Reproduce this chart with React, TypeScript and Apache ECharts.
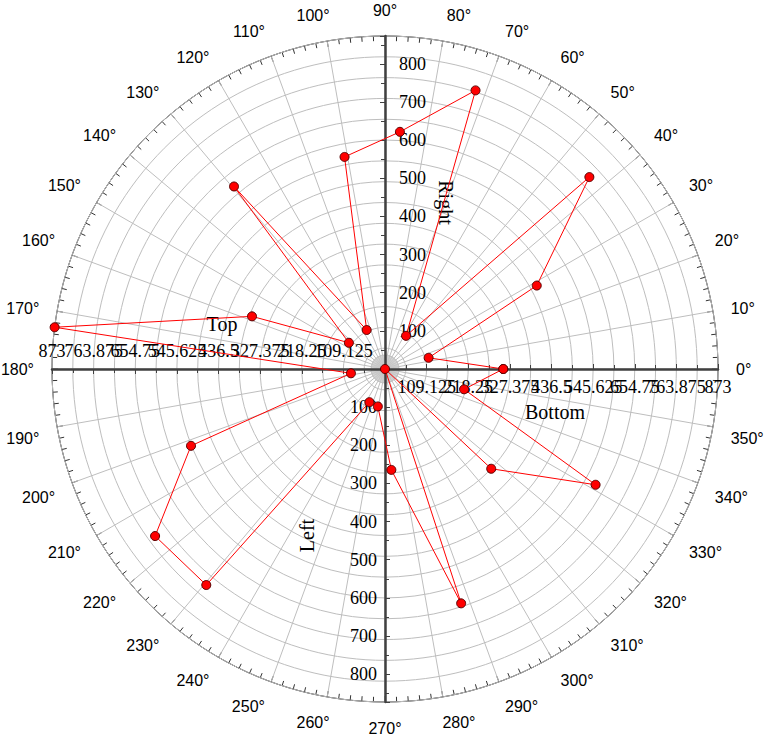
import React, { useEffect, useRef } from 'react';
import * as echarts from 'echarts';

// ---- data ----
const angles = [0, 14.4, 28.8, 43.2, 57.6, 72, 86.4, 100.8, 115.2, 129.6, 144, 158.4, 172.8, 187.2, 201.6, 216, 230.4, 244.8, 259.2, 273.6, 288, 302.4, 316.8, 331.2, 345.6, 360];
const radii = [310, 118, 454, 735, 103, 768, 623, 566, 113, 621, 117, 375, 873, 90, 547, 745, 735, 96, 100, 265, 646, 0, 382, 630, 214, 310];

const radialMax = 873;
const topBottomInterval = 109.125;
const rightLeftInterval = 100;
const rightLeftLabels = [100, 200, 300, 400, 500, 600, 700, 800];
const axisNames = { bottom: 'Bottom', right: 'Right', top: 'Top', left: 'Left' };
// angle labels that sit next to an axis, grouped by the way they are pushed off it
const angleLabelsPushRight = [80, 280];
const angleLabelsPushLeft = [100, 260];
const angleLabelsPushUp = [10, 170];
const angleLabelsPushDown = [190, 350];
const nearAxisAngles = [...angleLabelsPushRight, ...angleLabelsPushLeft, ...angleLabelsPushUp, ...angleLabelsPushDown];

const CENTER = [385, 369];
const RADIUS = 333;
const SERIF = 'Liberation Serif';
const SANS = 'Liberation Sans';
const GRID = '#BEBEBE';
const AXIS = '#404040';
const ANGLE_LABEL = { fontFamily: SANS, fontSize: 16, color: '#000', margin: 18 };

function hiddenAngle(polarIndex: number, startAngle: number) {
  return {
    polarIndex, type: 'value', min: 0, max: 360, interval: 90, startAngle, clockwise: false, show: false,
  };
}

function hiddenRadius(polarIndex: number) {
  return { polarIndex, type: 'value', min: 0, max: 1, show: false };
}

function angleLabelRing(polarIndex: number, values: number[], padding: number[], prefix = '', lineHeight?: number) {
  return {
    polarIndex, type: 'value', min: 0, max: 360, interval: 10, startAngle: 0, clockwise: false,
    axisLine: { show: false }, axisTick: { show: false }, splitLine: { show: false },
    axisLabel: {
      ...ANGLE_LABEL, padding, ...(lineHeight ? { lineHeight } : {}),
      formatter: (v: number) => (values.indexOf(v) >= 0 ? prefix + v + '°' : ''),
    },
  };
}

function radial(polarIndex: number, opts: any) {
  const { nameTextStyle, axisLabel, ...rest } = opts;
  return {
    polarIndex,
    type: 'value',
    min: 0,
    max: radialMax,
    nameLocation: 'middle',
    axisLine: { show: true, lineStyle: { color: AXIS, width: 2.5 } },
    axisTick: { show: true, length: 5, lineStyle: { color: AXIS, width: 1 } },
    minorTick: { show: true, splitNumber: 2, length: 4, lineStyle: { color: AXIS, width: 1 } },
    splitLine: { show: false },
    z: 5,
    ...rest,
    nameTextStyle: { fontFamily: SERIF, fontSize: 20, color: '#000', ...(nameTextStyle || {}) },
    axisLabel: {
      fontFamily: SERIF, fontSize: 18, color: '#000', showMaxLabel: false, hideOverlap: false,
      ...(axisLabel || {}),
    },
  };
}

export default function App() {
  const ref = useRef<HTMLDivElement>(null);
  useEffect(() => {
    if (!ref.current) return;
    const chart = echarts.init(ref.current, undefined, { renderer: 'svg' });
    const tbFmt = (v: number) => (v === 0 || v === radialMax ? '' : String(v));
    const maxFmt = (v: number) => (v === radialMax ? String(v) : '');
    const rlFmt = (v: number) => (rightLeftLabels.indexOf(v) >= 0 ? String(v) : '');
    const polar = (r: number) => ({ center: CENTER, radius: r });
    const option: any = {
      animation: false,
      polar: [
        polar(RADIUS), polar(RADIUS), polar(RADIUS), polar(RADIUS), polar(14),
        polar(RADIUS), polar(RADIUS),
        polar(RADIUS), polar(RADIUS), polar(RADIUS), polar(RADIUS),
      ],
      angleAxis: [
        {
          polarIndex: 0, type: 'value', min: 0, max: 360, interval: 10, startAngle: 0, clockwise: false,
          axisLine: { show: true, lineStyle: { color: '#000', width: 1 } },
          axisTick: { show: true, inside: true, length: 6, lineStyle: { color: '#333' } },
          minorTick: { show: true, splitNumber: 5, length: 5, lineStyle: { color: '#333' } },
          axisLabel: {
            ...ANGLE_LABEL,
            formatter: (v: number) => (v === 360 || nearAxisAngles.indexOf(v) >= 0 ? '' : v + '°'),
          },
          splitLine: { show: true, lineStyle: { color: GRID, width: 1 } },
        },
        hiddenAngle(1, 90),
        hiddenAngle(2, 180),
        hiddenAngle(3, 270),
        {
          polarIndex: 4, type: 'value', min: 0, max: 360, interval: 3, startAngle: 0, clockwise: false,
          axisLine: { show: true, lineStyle: { color: GRID, width: 1 } },
          axisTick: { show: false }, axisLabel: { show: false },
          splitLine: { show: true, lineStyle: { color: '#C8C8C8', width: 0.8 } },
        },
        hiddenAngle(5, 0),
        hiddenAngle(6, 180),
        angleLabelRing(7, angleLabelsPushRight, [0, 0, 0, 26]),
        angleLabelRing(8, angleLabelsPushLeft, [0, 22, 0, 0]),
        angleLabelRing(9, angleLabelsPushUp, [0, 0, 22, 0]),
        angleLabelRing(10, angleLabelsPushDown, [0, 0, 0, 0], '\n', 17),
      ],
      radiusAxis: [
        radial(0, {
          name: axisNames.bottom, nameGap: 33, interval: topBottomInterval,
          nameTextStyle: { padding: [0, 0, 0, 7] },
          axisTick: { show: true, inside: true, length: 5, lineStyle: { color: AXIS } },
          axisLabel: { margin: -18, align: 'center', verticalAlign: 'middle', formatter: tbFmt },
          splitLine: { show: true, lineStyle: { color: GRID, width: 1 } },
          minorSplitLine: { show: true, lineStyle: { color: GRID, width: 1 } },
        }),
        radial(1, {
          name: axisNames.right, nameGap: 51, nameRotate: -90, interval: rightLeftInterval,
          axisLabel: { margin: -14, align: 'left', verticalAlign: 'middle', padding: [8, 0, 0, 0], formatter: rlFmt },
        }),
        radial(2, {
          name: axisNames.top, nameGap: 35, nameRotate: 0, interval: topBottomInterval,
          nameTextStyle: { padding: [0, 0, 0, 7] },
          axisLabel: { margin: -18, align: 'center', verticalAlign: 'middle', formatter: tbFmt },
        }),
        radial(3, {
          name: axisNames.left, nameGap: 68, nameRotate: 90, interval: rightLeftInterval,
          axisTick: { show: true, inside: true, length: 5, lineStyle: { color: AXIS } },
          axisLabel: { margin: -8, align: 'right', verticalAlign: 'middle', padding: [0, 0, 8, 0], formatter: rlFmt },
        }),
        hiddenRadius(4),
        radial(5, {
          interval: radialMax, axisLine: { show: false }, axisTick: { show: false }, minorTick: { show: false },
          axisLabel: { margin: -18, align: 'center', verticalAlign: 'middle', showMaxLabel: true, formatter: maxFmt },
        }),
        radial(6, {
          interval: radialMax, axisLine: { show: false }, axisTick: { show: false }, minorTick: { show: false },
          axisLabel: { margin: -18, align: 'center', verticalAlign: 'middle', showMaxLabel: true, formatter: maxFmt },
        }),
        hiddenRadius(7), hiddenRadius(8), hiddenRadius(9), hiddenRadius(10),
      ],
      series: [
        {
          type: 'line',
          coordinateSystem: 'polar',
          polarIndex: 0,
          data: angles.map((a, i) => [radii[i], a]),
          symbol: 'circle',
          symbolSize: 9,
          lineStyle: { color: '#FF0000', width: 1 },
          itemStyle: { color: '#FF0000', borderColor: '#5A0000', borderWidth: 1 },
          z: 10,
        },
      ],
    };
    chart.setOption(option);
    return () => chart.dispose();
  }, []);
  return (
    <div
      ref={ref}
      style={{ position: 'absolute', left: 0, top: 0, width: 776, height: 738, background: '#fff' }}
    />
  );
}
